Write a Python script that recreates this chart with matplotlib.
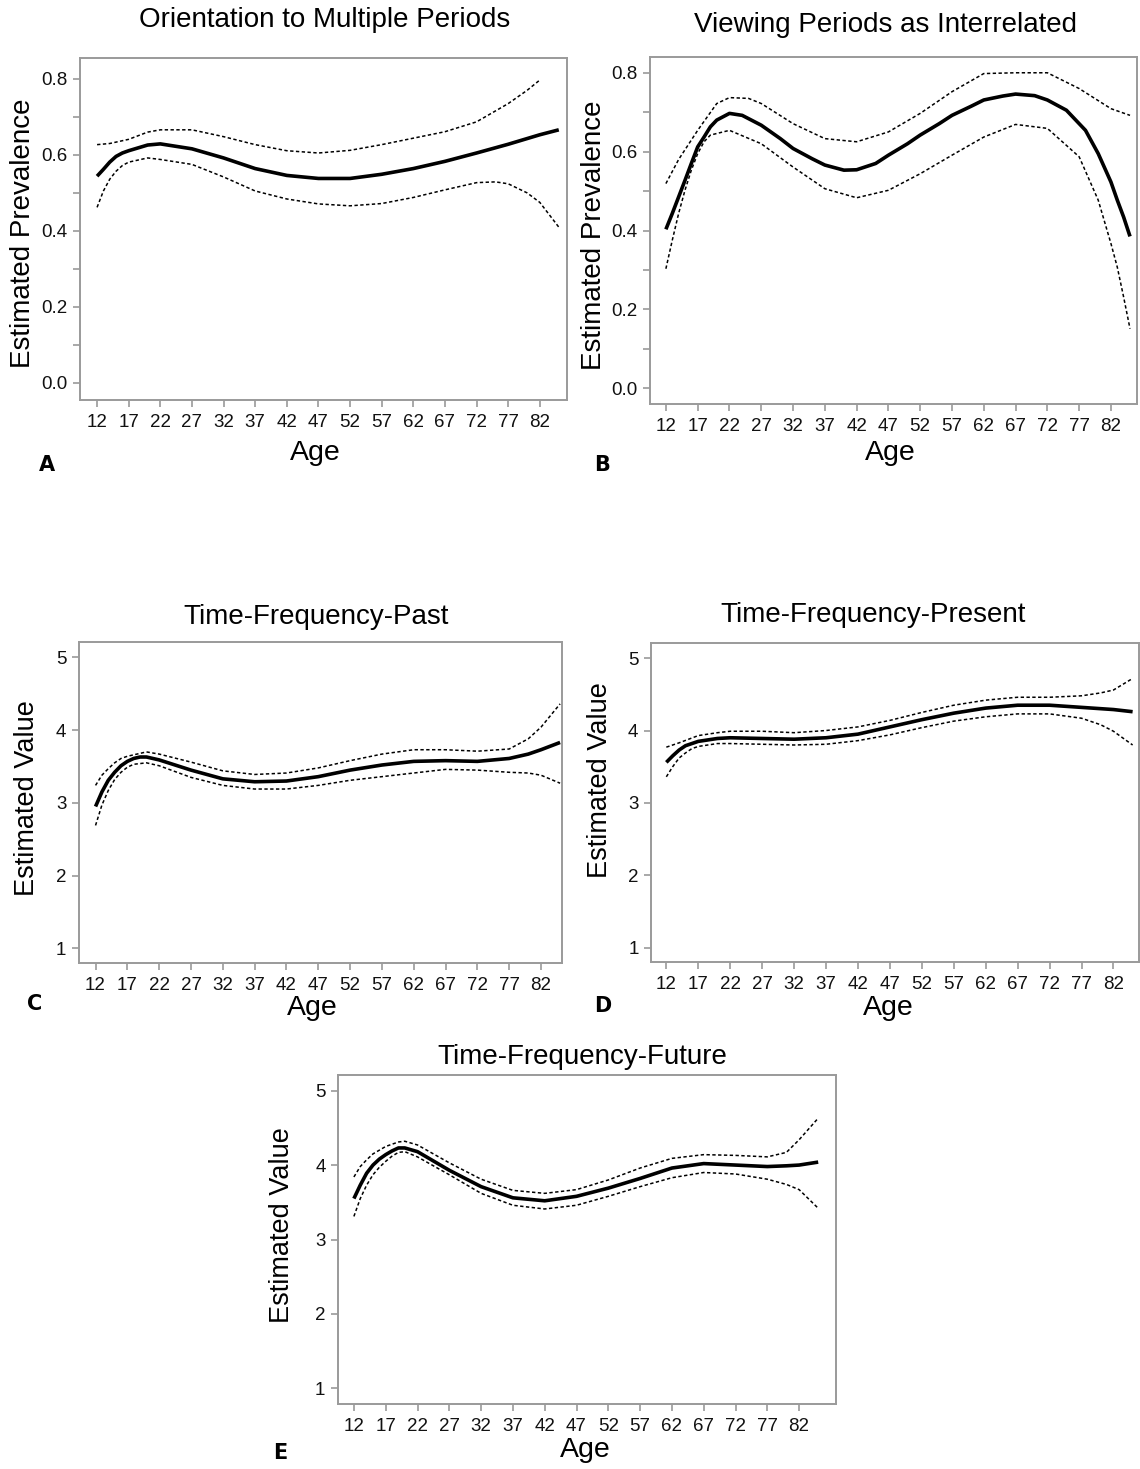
import numpy as np
import matplotlib
matplotlib.use("Agg")
import matplotlib.pyplot as plt

plt.rcParams['font.family'] = ['Liberation Sans', 'DejaVu Sans']

# ---------------- DATA ----------------
# A: Orientation to Multiple Periods
a_age = [12, 13, 14, 15, 16, 17, 20, 22, 27, 32, 37, 42, 47, 52, 57, 62, 67, 72, 77, 82, 85]
a_est = [0.544, 0.562, 0.581, 0.596, 0.605, 0.611, 0.626, 0.629, 0.616, 0.592, 0.564,
         0.546, 0.538, 0.538, 0.549, 0.564, 0.583, 0.605, 0.628, 0.653, 0.666]
a_up_age = [12, 14, 17, 20, 22, 27, 32, 37, 42, 47, 52, 57, 62, 67, 72, 77, 80, 82]
a_up = [0.627, 0.630, 0.641, 0.660, 0.666, 0.666, 0.648, 0.627, 0.611, 0.605,
        0.612, 0.627, 0.644, 0.661, 0.687, 0.735, 0.770, 0.797]
a_lo_age = [12, 13, 14, 15, 16, 17, 20, 22, 27, 32, 37, 42, 47, 52, 57, 62, 67, 72, 75, 77, 80, 82, 85]
a_lo = [0.462, 0.505, 0.536, 0.557, 0.572, 0.581, 0.592, 0.588, 0.575, 0.542, 0.505, 0.484,
        0.471, 0.466, 0.472, 0.488, 0.508, 0.527, 0.529, 0.524, 0.500, 0.475, 0.410]

# B: Viewing Periods as Interrelated
b_age = [12, 13, 14, 15, 16, 17, 18, 19, 20, 22, 24, 27, 30, 32, 35, 37, 40, 42, 45, 47,
         50, 52, 55, 57, 60, 62, 65, 67, 70, 72, 75, 77, 78, 80, 82, 83, 84, 85]
b_est = [0.403, 0.443, 0.485, 0.527, 0.570, 0.612, 0.637, 0.663, 0.680, 0.697, 0.692,
         0.667, 0.633, 0.608, 0.582, 0.566, 0.553, 0.554, 0.570, 0.591, 0.620, 0.642,
         0.671, 0.692, 0.715, 0.731, 0.741, 0.746, 0.742, 0.731, 0.705, 0.671, 0.654,
         0.595, 0.523, 0.477, 0.434, 0.385]
b_up_age = [12, 14, 17, 20, 22, 25, 27, 32, 37, 42, 47, 52, 57, 62, 67, 72, 77, 82, 85]
b_up = [0.519, 0.580, 0.654, 0.722, 0.737, 0.735, 0.722, 0.671, 0.633, 0.625,
        0.650, 0.697, 0.752, 0.798, 0.800, 0.800, 0.760, 0.709, 0.692]
b_lo_age = [12, 13, 14, 15, 16, 17, 18, 19, 20, 22, 27, 32, 37, 42, 47, 52, 57, 62, 67,
            72, 77, 80, 82, 83, 84, 85]
b_lo = [0.303, 0.375, 0.443, 0.502, 0.553, 0.595, 0.625, 0.642, 0.646, 0.654, 0.620,
        0.561, 0.506, 0.483, 0.502, 0.544, 0.591, 0.637, 0.669, 0.659, 0.587, 0.477,
        0.367, 0.307, 0.231, 0.151]

# C: Time-Frequency-Past
c_age = [12, 13, 14, 15, 16, 17, 18, 19, 20, 22, 27, 32, 37, 42, 47, 52, 57, 62, 67,
         72, 77, 80, 82, 85]
c_est = [2.95, 3.15, 3.31, 3.42, 3.51, 3.57, 3.61, 3.63, 3.63, 3.59, 3.45, 3.33, 3.29,
         3.30, 3.36, 3.45, 3.52, 3.57, 3.58, 3.57, 3.61, 3.67, 3.73, 3.83]
c_up_age = [12, 13, 14, 15, 16, 17, 20, 22, 27, 32, 37, 42, 47, 52, 57, 62, 67, 72, 77,
            80, 82, 85]
c_up = [3.24, 3.38, 3.47, 3.55, 3.61, 3.64, 3.70, 3.67, 3.56, 3.44, 3.39, 3.41, 3.48,
        3.58, 3.67, 3.73, 3.73, 3.71, 3.74, 3.88, 4.04, 4.36]
c_lo_age = [12, 13, 14, 15, 16, 17, 18, 20, 22, 27, 32, 37, 42, 47, 52, 57, 62, 67, 72,
            77, 80, 82, 85]
c_lo = [2.69, 2.97, 3.17, 3.32, 3.42, 3.49, 3.53, 3.55, 3.51, 3.35, 3.24, 3.19, 3.19,
        3.24, 3.31, 3.36, 3.41, 3.46, 3.45, 3.42, 3.41, 3.38, 3.27]

# D: Time-Frequency-Present
d_age = [12, 13, 14, 15, 16, 17, 20, 22, 27, 32, 37, 42, 47, 52, 57, 62, 67, 72, 77, 82, 85]
d_est = [3.56, 3.65, 3.73, 3.79, 3.82, 3.85, 3.89, 3.90, 3.89, 3.88, 3.90, 3.95, 4.05,
         4.15, 4.24, 4.31, 4.35, 4.35, 4.32, 4.29, 4.26]
d_up_age = [12, 14, 17, 20, 22, 27, 32, 37, 42, 47, 52, 57, 62, 67, 72, 77, 80, 82, 85]
d_up = [3.77, 3.83, 3.93, 3.97, 3.99, 3.99, 3.97, 4.00, 4.05, 4.14, 4.25, 4.35, 4.42,
        4.46, 4.46, 4.48, 4.52, 4.56, 4.72]
d_lo_age = [12, 13, 14, 15, 16, 17, 20, 22, 27, 32, 37, 42, 47, 52, 57, 62, 67, 72, 77,
            80, 82, 85]
d_lo = [3.36, 3.50, 3.62, 3.69, 3.75, 3.78, 3.82, 3.82, 3.81, 3.80, 3.81, 3.86, 3.94,
        4.04, 4.13, 4.19, 4.23, 4.23, 4.17, 4.08, 3.99, 3.80]

# E: Time-Frequency-Future
e_age = [12, 13, 14, 15, 16, 17, 18, 19, 20, 22, 27, 32, 37, 42, 47, 52, 57, 62, 67,
         72, 77, 80, 82, 85]
e_est = [3.55, 3.73, 3.89, 4.00, 4.08, 4.14, 4.19, 4.23, 4.23, 4.18, 3.93, 3.71, 3.56,
         3.52, 3.58, 3.69, 3.82, 3.96, 4.02, 4.00, 3.98, 3.99, 4.00, 4.04]
e_up_age = [12, 13, 14, 15, 16, 17, 19, 20, 22, 27, 32, 37, 42, 47, 52, 57, 62, 67, 72,
            77, 80, 82, 85]
e_up = [3.84, 3.98, 4.07, 4.15, 4.20, 4.25, 4.31, 4.32, 4.27, 4.03, 3.81, 3.66, 3.62,
        3.67, 3.80, 3.96, 4.09, 4.14, 4.13, 4.11, 4.17, 4.34, 4.63]
e_lo_age = e_age
e_lo = [3.31, 3.55, 3.73, 3.87, 3.97, 4.05, 4.12, 4.17, 4.18, 4.11, 3.87, 3.62, 3.46,
        3.41, 3.46, 3.58, 3.71, 3.83, 3.90, 3.88, 3.81, 3.74, 3.67, 3.42]

age_ticks = list(range(12, 83, 5))

# ---------------- FIGURE ----------------
W, H = 1140, 1469
fig = plt.figure(figsize=(W / 100, H / 100), dpi=100)


def box(l, t, r, b):
    return [l / W, 1 - b / H, (r - l) / W, (b - t) / H]


def fx(x):
    return x / W


def fy(y):
    return 1 - y / H


GREY = "#9a9a9a"
dash = (0, (2.2, 1.6))


def panel(rect, xlim, ylim, yticks, ylabels, minor):
    ax = fig.add_axes(rect)
    ax.set_xlim(*xlim)
    ax.set_ylim(*ylim)
    ax.set_xticks(age_ticks)
    ax.set_xticklabels([str(t) for t in age_ticks])
    ax.set_yticks(yticks)
    ax.set_yticklabels(ylabels)
    if minor:
        ax.set_yticks(minor, minor=True)
    for s in ax.spines.values():
        s.set_color(GREY)
        s.set_linewidth(1.4)
    ax.tick_params(axis="both", which="both", direction="out", color=GREY,
                   length=5, width=1.2, labelsize=13.5, labelcolor="#111111")
    ax.tick_params(axis="x", pad=5)
    ax.tick_params(axis="y", pad=4)
    return ax


def curves(ax, x, est, xu, up, xl, lo):
    ax.plot(x, est, color="black", lw=2.6, solid_capstyle="butt", solid_joinstyle="round")
    ax.plot(xu, up, color="black", lw=1.1, linestyle=dash)
    ax.plot(xl, lo, color="black", lw=1.1, linestyle=dash)


prev_ticks = [0.0, 0.2, 0.4, 0.6, 0.8]
prev_labels = ["0.0", "0.2", "0.4", "0.6", "0.8"]
prev_minor = [0.1, 0.3, 0.5, 0.7]
val_ticks = [1, 2, 3, 4, 5]
val_labels = ["1", "2", "3", "4", "5"]

# A
axA = panel(box(80, 58, 567, 400), (9.3, 86.3), (-0.045, 0.855),
            prev_ticks, prev_labels, prev_minor)
curves(axA, a_age, a_est, a_up_age, a_up, a_lo_age, a_lo)

# B
axB = panel(box(650, 57, 1137, 404), (9.5, 86.1), (-0.04, 0.84),
            prev_ticks, prev_labels, prev_minor)
curves(axB, b_age, b_est, b_up_age, b_up, b_lo_age, b_lo)

# C
axC = panel(box(79, 642, 562, 963), (9.4, 85.3), (0.80, 5.21),
            val_ticks, val_labels, None)
curves(axC, c_age, c_est, c_up_age, c_up, c_lo_age, c_lo)

# D
axD = panel(box(651, 643, 1139, 962), (9.6, 86.0), (0.80, 5.21),
            val_ticks, val_labels, None)
curves(axD, d_age, d_est, d_up_age, d_up, d_lo_age, d_lo)

# E
axE = panel(box(338, 1075, 836, 1404), (9.5, 87.8), (0.79, 5.21),
            val_ticks, val_labels, None)
curves(axE, e_age, e_est, e_up_age, e_up, e_lo_age, e_lo)

# ---------------- TEXT ----------------
titles = [("Orientation to Multiple Periods", 325, 20),
          ("Viewing Periods as Interrelated", 885, 25),
          ("Time-Frequency-Past", 316, 617),
          ("Time-Frequency-Present", 873, 615),
          ("Time-Frequency-Future", 582, 1057)]
for txt, x, y in titles:
    fig.text(fx(x), fy(y), txt, ha="center", va="center", fontsize=20)

ylabs = [("Estimated Prevalence", 23, 233, 20),
         ("Estimated Prevalence", 594, 235, 20),
         ("Estimated Value", 27, 798, 19.5),
         ("Estimated Value", 600, 780, 19.5),
         ("Estimated Value", 282, 1225, 19.5)]
for txt, x, y, fs in ylabs:
    fig.text(fx(x), fy(y), txt, ha="center", va="center", rotation=90, fontsize=fs)

xlabs = [(315, 453), (890, 453), (312, 1008), (888, 1008), (585, 1450)]
for x, y in xlabs:
    fig.text(fx(x), fy(y), "Age", ha="center", va="center", fontsize=20.5)

letters = [("A", 47, 465), ("B", 602, 465), ("C", 35, 1004),
           ("D", 603, 1006), ("E", 280, 1453)]
for txt, x, y in letters:
    fig.text(fx(x), fy(y), txt, ha="center", va="center", fontsize=15,
             fontweight="bold", family="DejaVu Sans")

fig.savefig("out.png", dpi=100, facecolor="white")
